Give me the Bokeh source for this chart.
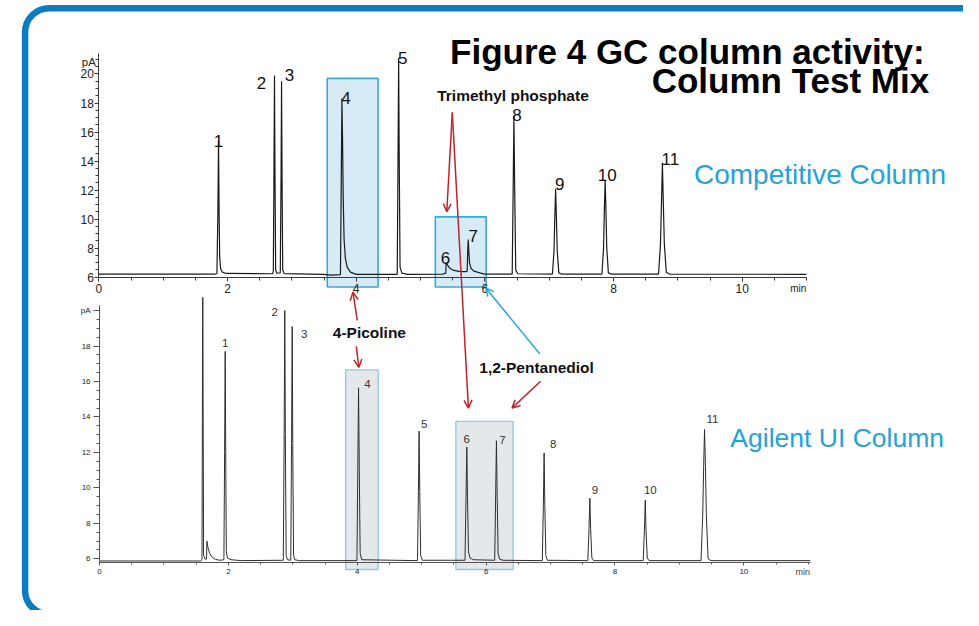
from bokeh.plotting import figure
from bokeh.models import Range1d, LinearAxis, FixedTicker, Label, Arrow, OpenHead, ColumnDataSource
from bokeh.embed import file_html
from bokeh.resources import INLINE
from bokeh.core.properties import value

# ---------------- data ----------------
# Competitive column chromatogram: retention time (min) and FID signal (pA)
comp_time = [0.00, 1.80,
             1.835, 1.850, 1.860, 1.868, 1.878, 1.892, 1.920, 1.980,
             2.700, 2.712, 2.722, 2.730, 2.738, 2.748, 2.765,
             2.820, 2.832, 2.840, 2.848, 2.858, 2.880,
             3.500, 3.600,
             3.755, 3.768, 3.778, 3.788, 3.798, 3.812, 3.832, 3.860, 3.910, 4.000,
             4.638, 4.650, 4.660, 4.670, 4.682, 4.710, 4.800,
             5.350, 5.392, 5.398, 5.405, 5.425, 5.460, 5.520, 5.600, 5.700,
             5.725, 5.735, 5.742, 5.750, 5.762, 5.785, 5.830, 5.920, 6.000,
             6.425, 6.440, 6.452, 6.464, 6.480, 6.510,
             7.050, 7.075, 7.087, 7.100, 7.113, 7.125, 7.150, 7.190,
             7.820, 7.845, 7.857, 7.870, 7.883, 7.895, 7.920, 7.960,
             8.700, 8.730, 8.745, 8.760, 8.775, 8.790, 8.820, 8.870,
             11.00]
comp_signal = [6.22, 6.22,
               6.24, 10.5, 15.4, 11.0, 7.4, 6.6, 6.35, 6.26,
               6.24, 6.4, 13.5, 19.9, 13.0, 6.5, 6.28,
               6.3, 13.0, 19.5, 12.5, 6.5, 6.25,
               6.2, 6.15,
               6.18, 12.5, 18.3, 15.5, 11.5, 8.6, 7.3, 6.7, 6.35, 6.2,
               6.2, 14.0, 21.1, 13.5, 6.7, 6.28, 6.2,
               6.22, 6.28, 6.95, 7.0, 6.8, 6.6, 6.47, 6.4, 6.38,
               6.42, 8.0, 8.6, 7.8, 7.0, 6.6, 6.42, 6.3, 6.22,
               6.22, 12.0, 17.1, 12.0, 6.5, 6.24,
               6.22, 7.8, 10.0, 12.1, 10.0, 7.8, 6.3, 6.22,
               6.22, 8.0, 10.5, 12.7, 10.5, 8.0, 6.3, 6.22,
               6.22, 8.3, 11.0, 13.9, 11.0, 8.3, 6.35, 6.22,
               6.20]
comp_peak_time = [1.860, 2.730, 2.840, 3.778, 4.660, 5.405, 5.742, 6.452, 7.100, 7.870, 8.760]
comp_peak_signal = [15.4, 19.9, 19.5, 18.3, 21.1, 7.0, 8.6, 17.1, 12.1, 12.7, 13.9]

# Agilent UI column chromatogram
ui_time = [0.00, 1.570,
           1.590, 1.596, 1.602, 1.608, 1.615, 1.640, 1.660,
           1.666, 1.685, 1.710, 1.750, 1.800, 1.870,
           1.930, 1.941, 1.950, 1.958, 1.968, 1.985, 2.040, 2.200,
           2.852, 2.865, 2.875, 2.884, 2.896, 2.915,
           2.968, 2.980, 2.990, 2.999, 3.011, 3.030, 3.100,
           3.995, 4.008, 4.020, 4.031, 4.045, 4.070,
           4.935, 4.949, 4.960, 4.970, 4.984, 5.010,
           5.672, 5.688, 5.700, 5.711, 5.726, 5.750, 5.800,
           6.133, 6.148, 6.160, 6.171, 6.186, 6.210, 6.260,
           6.872, 6.888, 6.900, 6.911, 6.927, 6.950,
           7.578, 7.597, 7.610, 7.622, 7.641, 7.670,
           8.438, 8.457, 8.470, 8.482, 8.501, 8.530,
           9.335, 9.362, 9.376, 9.390, 9.404, 9.418, 9.445, 9.490,
           11.03]
ui_signal = [5.88, 5.88,
             5.95, 14.0, 20.75, 14.0, 6.2, 5.98, 5.98,
             7.0, 6.6, 6.3, 6.08, 5.97, 5.92,
             5.95, 12.0, 17.7, 12.0, 6.4, 6.05, 5.95, 5.9,
             5.92, 13.0, 20.0, 13.0, 6.2, 5.95,
             5.92, 12.5, 19.1, 12.5, 6.2, 5.95, 5.9,
             5.9, 11.0, 15.65, 11.0, 6.3, 5.95,
             5.9, 9.8, 13.2, 9.8, 6.2, 5.92,
             5.92, 9.5, 12.3, 9.5, 6.4, 6.05, 5.95,
             5.92, 9.6, 12.66, 9.6, 6.3, 5.98, 5.92,
             5.9, 9.0, 11.97, 9.0, 6.2, 5.92,
             5.9, 7.7, 9.42, 7.7, 6.05, 5.9,
             5.9, 7.6, 9.31, 7.6, 6.05, 5.9,
             5.9, 8.5, 11.2, 13.3, 11.2, 8.5, 6.0, 5.9,
             5.9]
ui_peak_time = [1.950, 2.875, 2.990, 4.020, 4.960, 5.700, 6.160, 6.900, 7.610, 8.470, 9.390]
ui_peak_signal = [17.7, 20.0, 19.1, 15.65, 13.2, 12.3, 12.66, 11.97, 9.42, 9.31, 13.3]

peak_ids = ["1", "2", "3", "4", "5", "6", "7", "8", "9", "10", "11"]

time_ticks = [0, 2, 4, 6, 8, 10]
time_minor_ticks = [0.5, 1, 1.5, 2.5, 3, 3.5, 4.5, 5, 5.5, 6.5, 7, 7.5, 8.5, 9, 9.5, 10.5, 11]
comp_signal_ticks = [6, 8, 10, 12, 14, 16, 18, 20]
comp_signal_minor = [6.5, 7, 7.5, 8.5, 9, 9.5, 10.5, 11, 11.5, 12.5, 13, 13.5, 14.5, 15, 15.5,
                     16.5, 17, 17.5, 18.5, 19, 19.5, 20.5, 21]
ui_signal_ticks = [6, 8, 10, 12, 14, 16, 18, 20]
ui_signal_minor = [6.5, 7, 7.5, 8.5, 9, 9.5, 10.5, 11, 11.5, 12.5, 13, 13.5, 14.5, 15, 15.5,
                   16.5, 17, 17.5, 18.5, 19, 19.5]
ui_signal_labels = {20: "pA"}

# highlighted regions (time / signal units)
comp_box_left, comp_box_right = [3.55, 5.23], [4.34, 6.02]
comp_box_top, comp_box_bottom = [19.7, 10.16], [5.33, 5.33]
ui_box_left, ui_box_right = [3.82, 5.53], [4.325, 6.42]
ui_box_top, ui_box_bottom = [16.66, 13.75], [5.4, 5.4]

# ---------------- layout / style ----------------
W, H = 963, 610          # figure size (fits the 979x626 window with its 8px margin)
RW, RH = 979, 626        # drawing coordinates of the whole panel
FONT = "Liberation Sans"
RED = "#bf242b"
CYAN = "#22a4d8"
FRAME = "#0c7cc2"


def span(p0, v0, p1, v1, lo, hi):
    k = (p1 - p0) / (v1 - v0)
    return v0 + (lo - p0) / k, v0 + (hi - p0) / k


p = figure(width=W, height=H, x_range=Range1d(0, RW), y_range=Range1d(-RH, 0),
           output_backend="svg", toolbar_location=None, x_axis_type=None, y_axis_type=None,
           min_border=0, outline_line_color=None, background_fill_color="white",
           border_fill_color="white")

p.extra_x_ranges = {
    "t1": Range1d(*span(100.0, 0, 754.0, 10, 0, RW)),
    "t2": Range1d(*span(100.7, 0, 755.7, 10, 0, RW)),
}
p.extra_y_ranges = {
    "p1": Range1d(*span(284.0, 6, 75.4, 20, RH, 0)),
    "p2": Range1d(*span(573.0, 6, 354.6, 18, RH, 0)),
}

# outer rounded frame
p.quad(left=[25], right=[1030], top=[-8], bottom=[-630], border_radius=24,
       fill_color=None, line_color=FRAME, line_width=6.5)

# highlight boxes
p.quad(left=comp_box_left, right=comp_box_right, top=comp_box_top, bottom=comp_box_bottom,
       x_range_name="t1", y_range_name="p1", fill_color="#d6ebf5", line_color="#38a9dc",
       line_width=1.6)
p.quad(left=ui_box_left, right=ui_box_right, top=ui_box_top, bottom=ui_box_bottom,
       x_range_name="t2", y_range_name="p2", fill_color="#e4e8ea", line_color="#8ccbe4",
       line_width=1.3)

# traces
p.line(comp_time, comp_signal, x_range_name="t1", y_range_name="p1",
       line_color="#1b1b1b", line_width=1.2)
p.line(ui_time, ui_signal, x_range_name="t2", y_range_name="p2",
       line_color="#2e2e2e", line_width=1.0)

# peak numbers
comp_dx = [0, -13, 8, 4, 4, -1, 5, 3, 4, 2, 8]
comp_dy = [0, 8, -6, -1, 0, -5, -3, -1, -5, -4.5, -4]
ui_dx = [0, -10, 12, 9, 5, 0, 6, 9, 5, 5, 8]
ui_dy = [-8, 1, 7, -4, -7, -8, -1, -8.5, -8, -10, -10]

src1 = ColumnDataSource(dict(x=comp_peak_time, y=comp_peak_signal, t=peak_ids, dx=comp_dx, dy=comp_dy))
p.text(x="x", y="y", text="t", x_offset="dx", y_offset="dy", source=src1,
       x_range_name="t1", y_range_name="p1", text_font=value(FONT), text_font_size="17px",
       text_color="#111111", text_align="center", text_baseline="middle")
src2 = ColumnDataSource(dict(x=ui_peak_time, y=ui_peak_signal, t=peak_ids, dx=ui_dx, dy=ui_dy))
p.text(x="x", y="y", text="t", x_offset="dx", y_offset="dy", source=src2,
       x_range_name="t2", y_range_name="p2", text_font=value(FONT), text_font_size="11.5px",
       text_color="#333333", text_align="center", text_baseline="middle")


def style_axis(ax, color, size, tick_out, minor_out, standoff):
    ax.axis_line_color = color
    ax.axis_line_width = 1
    ax.major_tick_line_color = color
    ax.minor_tick_line_color = color
    ax.major_tick_in = 0
    ax.minor_tick_in = 0
    ax.major_tick_out = tick_out
    ax.minor_tick_out = minor_out
    ax.major_label_text_font = FONT
    ax.major_label_text_font_size = size
    ax.major_label_text_color = "#222222"
    ax.major_label_standoff = standoff


ax1x = LinearAxis(x_range_name="t1", y_range_name="p1", fixed_location=6.0, bounds=(0, 11.0),
                  ticker=FixedTicker(ticks=time_ticks, minor_ticks=time_minor_ticks))
style_axis(ax1x, "#3a3a3a", "12px", 4, 3, 3)
p.add_layout(ax1x, "below")

ax1y = LinearAxis(x_range_name="t1", y_range_name="p1", fixed_location=0.0, bounds=(6.0, 21.4),
                  ticker=FixedTicker(ticks=comp_signal_ticks, minor_ticks=comp_signal_minor))
style_axis(ax1y, "#3a3a3a", "12px", 4, 3, 1)
p.add_layout(ax1y, "left")

ax2x = LinearAxis(x_range_name="t2", y_range_name="p2", fixed_location=5.8, bounds=(0, 11.03),
                  ticker=FixedTicker(ticks=time_ticks, minor_ticks=time_minor_ticks))
style_axis(ax2x, "#555555", "8px", 3, 2, 4)
p.add_layout(ax2x, "below")

ax2y = LinearAxis(x_range_name="t2", y_range_name="p2", fixed_location=0.0, bounds=(5.8, 20.3),
                  ticker=FixedTicker(ticks=ui_signal_ticks, minor_ticks=ui_signal_minor),
                  major_label_overrides=ui_signal_labels)
style_axis(ax2y, "#555555", "8px", 6, 3, 3)
p.add_layout(ax2y, "left")


def label(x, y, text, size, color="#111111", bold=False, align="center", baseline="middle"):
    p.add_layout(Label(x=x, y=-y, text=text, text_font=FONT, text_font_size=size,
                       text_color=color, text_font_style="bold" if bold else "normal",
                       text_align=align, text_baseline=baseline))


label(97, 63, "pA", "11.5px", "#222222", align="right")
label(811, 295.5, "min", "10px", "#222222")
label(815.5, 586, "min", "9px", "#444444")

label(457, 52, "Figure 4 GC column activity:", "35px", "#000000", bold=True,
      align="left", baseline="alphabetic")
label(662, 82, "Column Test Mix", "35px", "#000000", bold=True,
      align="left", baseline="alphabetic")

label(705, 179, "Competitive Column", "28px", CYAN, align="left", baseline="alphabetic")
label(742, 449, "Agilent UI Column", "26.5px", CYAN, align="left", baseline="alphabetic")

label(521, 97, "Trimethyl phosphate", "15.5px", "#111111", bold=True)
label(375, 341, "4-Picoline", "15.5px", "#111111", bold=True)
label(545, 377, "1,2-Pentanediol", "15.5px", "#111111", bold=True)

arrows = [
    ((459.3, 115.0), (453.7, 216.7), RED),
    ((459.3, 115.0), (475.7, 418.3), RED),
    ((362.7, 328.3), (358.3, 299.3), RED),
    ((361.7, 355.0), (364.3, 376.5), RED),
    ((549.0, 390.7), (520.0, 418.3), RED),
    ((548.3, 362.7), (493.3, 295.0), "#2aa6da"),
]
for (x0, y0), (x1, y1), c in arrows:
    p.add_layout(Arrow(end=OpenHead(size=8, line_color=c, line_width=1.5),
                       x_start=x0, y_start=-y0, x_end=x1, y_end=-y1,
                       line_color=c, line_width=1.5))

open("out.html", "w").write(file_html(p, INLINE))
